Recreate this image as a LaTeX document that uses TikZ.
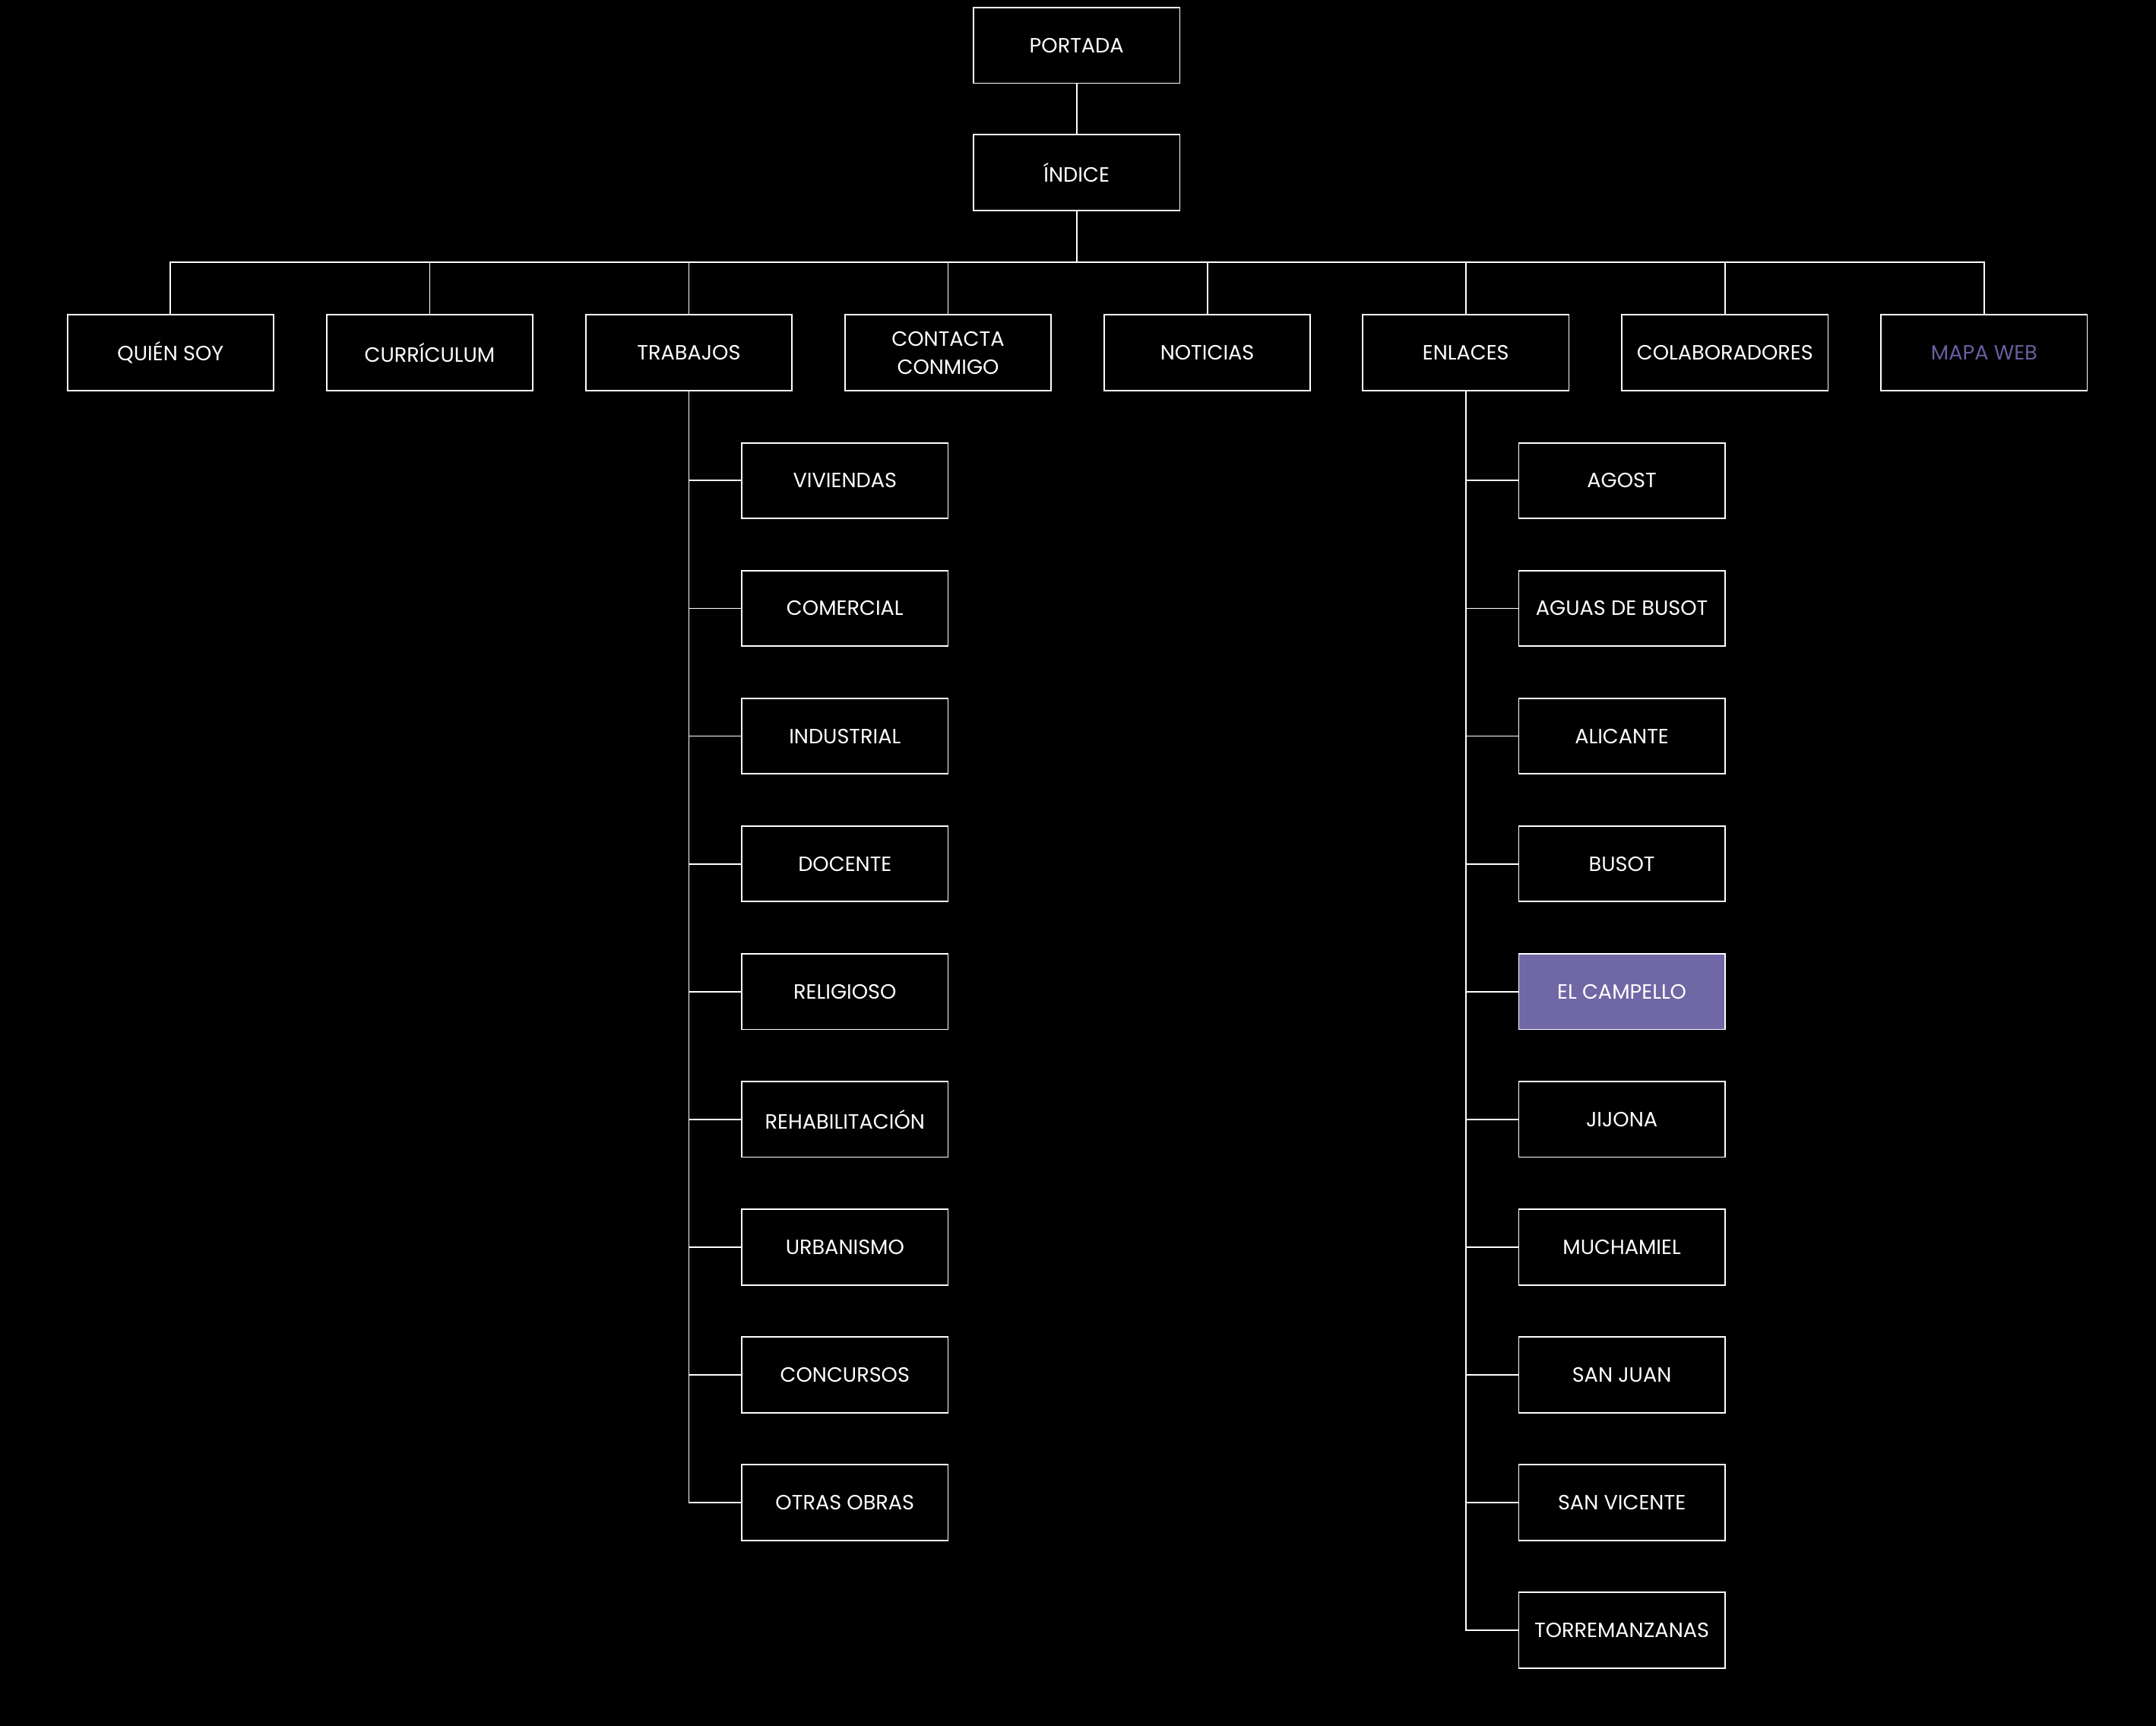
\documentclass[tikz,border=0pt]{standalone}
\usepackage{fontspec}
\setmainfont{Poppins}
\definecolor{campfill}{RGB}{112,104,164}
\definecolor{mapatext}{RGB}{104,94,160}
\tikzset{
  box/.style={draw=white, line width=1pt, fill=black, text=white, minimum width=150pt, minimum height=55pt, inner sep=0pt, align=center, font=\fontsize{15pt}{20.5pt}\selectfont},
  link/.style={draw=white, line width=1pt}
}
\begin{document}
\begin{tikzpicture}[x=1pt,y=-1pt]
\fill[black] (0,0) rectangle (1568,1255);
\useasboundingbox (0,0) rectangle (1568,1255);
\node[box] (portada) at (783,33) {PORTADA};
\node[box] (indice) at (783,125.5) {ÍNDICE};
\node[box] (quien) at (124,256.5) {QUIÉN SOY};
\node[box] (curri) at (312.5,256.5) {CURRÍCULUM};
\node[box] (trab) at (501,256.5) {TRABAJOS};
\node[box] (cont) at (689.5,256.5) {CONTACTA\\CONMIGO};
\node[box] (noti) at (878,256.5) {NOTICIAS};
\node[box] (enl) at (1066,256.5) {ENLACES};
\node[box] (cola) at (1254.5,256.5) {COLABORADORES};
\node[box, text=mapatext] (mapa) at (1443,256.5) {MAPA WEB};
\foreach \n/\t [count=\i from 0] in {viv/VIVIENDAS, com/COMERCIAL, ind/INDUSTRIAL, doc/DOCENTE, rel/RELIGIOSO, reh/REHABILITACIÓN, urb/URBANISMO, conc/CONCURSOS, otr/OTRAS OBRAS}{
  \node[box] (\n) at (614.5,349.5+92.9*\i) {\t};
  \draw[link] (trab.south) |- (\n.west);
}
\foreach \n/\t [count=\i from 0] in {ago/AGOST, agu/AGUAS DE BUSOT, ali/ALICANTE, bus/BUSOT, camp/EL CAMPELLO, jij/JIJONA, much/MUCHAMIEL, sj/SAN JUAN, sv/SAN VICENTE, tor/TORREMANZANAS}{
  \node[box] (\n) at (1179.5,349.5+92.9*\i) {\t};
  \draw[link] (enl.south) |- (\n.west);
}
\node[box, fill=campfill] at (camp) {EL CAMPELLO};
\draw[link] (portada.south) -- (indice.north);
\coordinate (bus) at (783,190.5);
\draw[link] (indice.south) -- (bus);
\foreach \n in {quien,curri,trab,cont,noti,enl,cola,mapa}{
  \draw[link] (bus) -| (\n.north);
}
\end{tikzpicture}
\end{document}
